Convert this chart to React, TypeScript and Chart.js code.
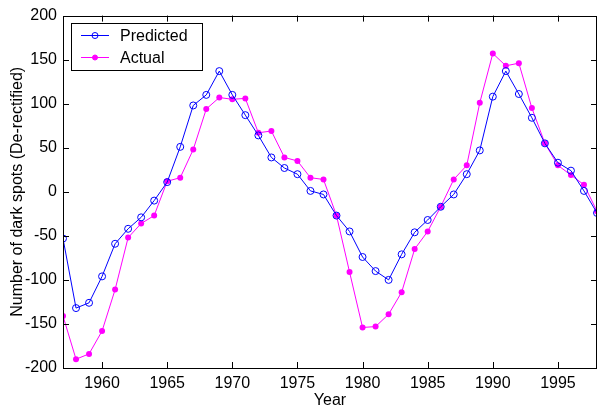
import { useEffect, useRef } from "react";
import { Chart, registerables } from "chart.js";

Chart.register(...registerables);

const years = [
  1957, 1958, 1959, 1960, 1961, 1962, 1963, 1964, 1965, 1966, 1967, 1968, 1969, 1970,
  1971, 1972, 1973, 1974, 1975, 1976, 1977, 1978, 1979, 1980, 1981, 1982, 1983, 1984,
  1985, 1986, 1987, 1988, 1989, 1990, 1991, 1992, 1993, 1994, 1995, 1996, 1997, 1998,
];

const predicted = [
  -53, -132, -126, -96, -59, -42, -29, -10, 11, 51, 98, 110, 137, 110,
  87, 64, 39, 27, 20, 1, -3, -27, -45, -74, -90, -100, -71, -46,
  -32, -17, -3, 20, 47, 108, 137, 111, 84, 55, 33, 24, 1, -24,
];

const actual = [
  -141, -190, -184, -158, -111, -52, -36, -27, 12, 16, 48, 94, 107, 105,
  106, 67, 69, 39, 35, 16, 14, -27, -91, -154, -153, -139, -114, -65,
  -45, -17, 14, 30, 101, 157, 143, 146, 95, 55, 30, 19, 8, -22,
];

const xTicks = [1960, 1965, 1970, 1975, 1980, 1985, 1990, 1995];
const yTicks = [-200, -150, -100, -50, 0, 50, 100, 150, 200];

const seriesNames = ["Predicted", "Actual"];
const seriesColors = ["#0000FF", "#FF00FF"];

const FONT = "Arial, 'Liberation Sans', Helvetica, sans-serif";

const framePlugin = {
  id: "frame",
  afterDraw(chart: any) {
    const { ctx, chartArea } = chart;
    const { left, right, top, bottom } = chartArea;
    const xs = chart.scales.x;
    const ys = chart.scales.y;
    ctx.save();
    ctx.strokeStyle = "#000";
    ctx.lineWidth = 1;
    ctx.beginPath();
    ctx.rect(Math.round(left) + 0.5, Math.round(top) + 0.5, Math.round(right - left) - 1, Math.round(bottom - top));
    ctx.stroke();
    const tl = 6;
    ctx.beginPath();
    xTicks.forEach((v) => {
      const px = Math.round(xs.getPixelForValue(v)) + 0.5;
      ctx.moveTo(px, bottom);
      ctx.lineTo(px, bottom - tl);
      ctx.moveTo(px, top);
      ctx.lineTo(px, top + tl);
    });
    yTicks.forEach((v) => {
      const py = Math.round(ys.getPixelForValue(v)) + 0.5;
      ctx.moveTo(left, py);
      ctx.lineTo(left + tl, py);
      ctx.moveTo(right, py);
      ctx.lineTo(right - tl, py);
    });
    ctx.stroke();

    // legend
    const bx = 71.5, by = 23.5, bw = 131, bh = 47;
    ctx.fillStyle = "#fff";
    ctx.fillRect(bx, by, bw, bh);
    ctx.strokeStyle = "#000";
    ctx.strokeRect(bx, by, bw, bh);
    ctx.font = "16px " + FONT;
    ctx.textBaseline = "middle";
    ctx.textAlign = "left";
    seriesNames.forEach((name, i) => {
      const cy = 35.5 + i * 22;
      ctx.strokeStyle = seriesColors[i];
      ctx.lineWidth = 1;
      ctx.beginPath();
      ctx.moveTo(81, cy);
      ctx.lineTo(109, cy);
      ctx.stroke();
      ctx.beginPath();
      ctx.arc(95, cy, i === 0 ? 3 : 2.5, 0, Math.PI * 2);
      if (i === 1) {
        ctx.fillStyle = seriesColors[i];
        ctx.fill();
      }
      ctx.stroke();
      ctx.fillStyle = "#000";
      ctx.fillText(name, 120, cy + 1);
    });
    ctx.restore();
  },
};

export default function App() {
  const ref = useRef<HTMLCanvasElement | null>(null);
  useEffect(() => {
    if (!ref.current) return;
    const chart = new Chart(ref.current, {
      type: "line",
      data: {
        datasets: [
          {
            label: seriesNames[0],
            data: years.map((y, i) => ({ x: y, y: predicted[i] })),
            borderColor: seriesColors[0],
            backgroundColor: "rgba(0,0,0,0)",
            borderWidth: 1,
            pointRadius: 3.5,
            pointBorderWidth: 1,
            pointBackgroundColor: "rgba(0,0,0,0)",
            pointBorderColor: seriesColors[0],
            tension: 0,
          },
          {
            label: seriesNames[1],
            data: years.map((y, i) => ({ x: y, y: actual[i] })),
            borderColor: seriesColors[1],
            backgroundColor: seriesColors[1],
            borderWidth: 1,
            pointRadius: 3,
            pointBorderWidth: 0,
            pointBackgroundColor: seriesColors[1],
            pointBorderColor: seriesColors[1],
            tension: 0,
          },
        ],
      },
      options: {
        animation: false,
        responsive: false,
        maintainAspectRatio: false,
        devicePixelRatio: 1,
        layout: { padding: { top: 15, right: 1, left: 0, bottom: 0 } },
        plugins: { legend: { display: false }, tooltip: { enabled: false } },
        scales: {
          x: {
            type: "linear",
            min: 1957,
            max: 1998,
            grid: { display: false, drawTicks: false },
            border: { display: false },
            afterBuildTicks: (s: any) => {
              s.ticks = xTicks.map((v) => ({ value: v }));
            },
            afterFit: (s: any) => {
              s.height = 42;
            },
            ticks: {
              color: "#000",
              font: { family: FONT, size: 16 },
              padding: 6,
              maxRotation: 0,
              autoSkip: false,
              callback: (v: any) => String(v),
            },
            title: {
              display: true,
              text: "Year",
              color: "#000",
              font: { family: FONT, size: 16 },
              padding: { top: 0, bottom: 0 },
            },
          },
          y: {
            type: "linear",
            min: -200,
            max: 200,
            grid: { display: false, drawTicks: false },
            border: { display: false },
            afterBuildTicks: (s: any) => {
              s.ticks = yTicks.map((v) => ({ value: v }));
            },
            afterFit: (s: any) => {
              s.width = 63;
            },
            ticks: {
              color: "#000",
              font: { family: FONT, size: 16 },
              padding: 6,
              autoSkip: false,
            },
            title: {
              display: true,
              text: "Number of dark spots (De-rectified)",
              color: "#000",
              font: { family: FONT, size: 16 },
              padding: { top: 8, bottom: 0 },
            },
          },
        },
      },
      plugins: [framePlugin],
    });
    return () => chart.destroy();
  }, []);
  return (
    <div style={{ position: "fixed", left: 0, top: 0, width: 602, height: 410, background: "#fff" }}>
      <canvas ref={ref} width={602} height={410} style={{ width: 602, height: 410, display: "block" }} />
    </div>
  );
}
